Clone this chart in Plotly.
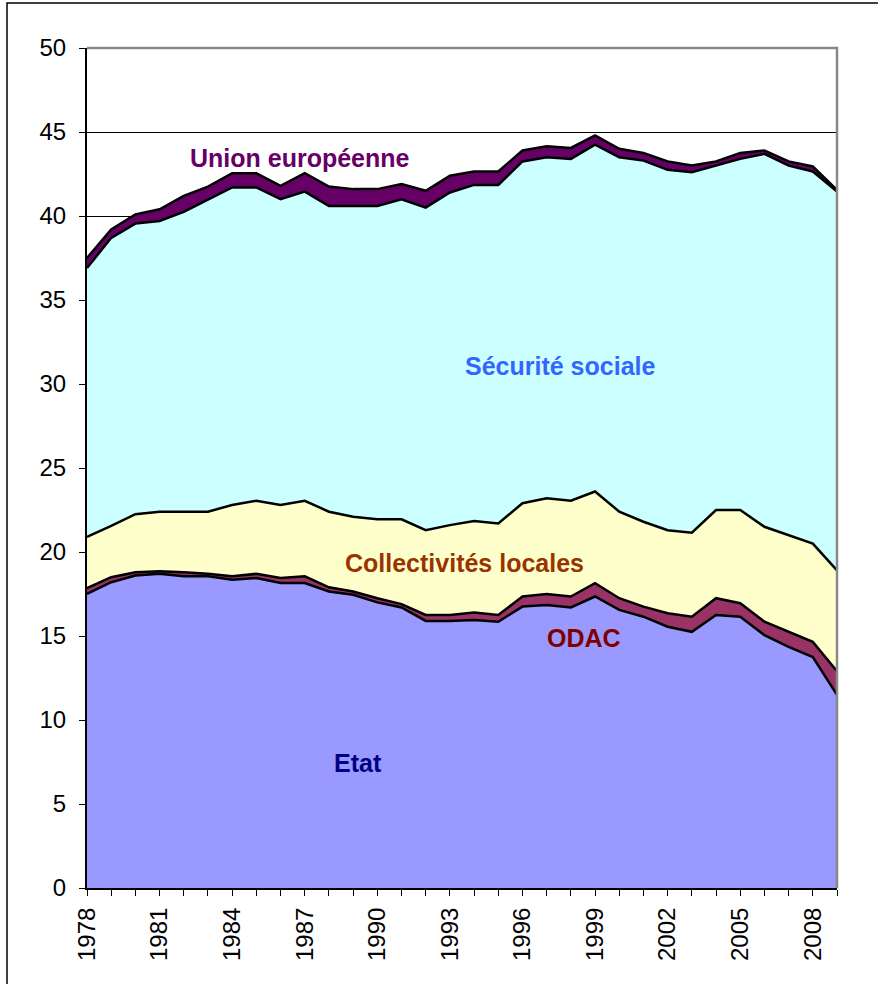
import plotly.graph_objects as go

years = list(range(1978, 2010))

etat = [17.5, 18.2, 18.6, 18.7, 18.55, 18.55, 18.35, 18.45, 18.15, 18.15, 17.65, 17.45,
        17.0, 16.7, 15.9, 15.9, 15.95, 15.85, 16.75, 16.85, 16.7, 17.35, 16.55, 16.15,
        15.55, 15.25, 16.25, 16.15, 15.05, 14.35, 13.75, 11.5]
odac = [0.35, 0.3, 0.2, 0.15, 0.25, 0.15, 0.2, 0.25, 0.3, 0.4, 0.25, 0.2,
        0.25, 0.2, 0.35, 0.35, 0.45, 0.4, 0.6, 0.65, 0.65, 0.8, 0.7, 0.6,
        0.8, 0.9, 1.0, 0.8, 0.8, 0.9, 0.9, 1.4]
collectivites = [3.05, 3.05, 3.45, 3.55, 3.6, 3.7, 4.25, 4.35, 4.35, 4.5, 4.5, 4.45,
                 4.7, 5.05, 5.05, 5.35, 5.45, 5.45, 5.55, 5.7, 5.7, 5.45, 5.15, 5.05,
                 4.95, 5.0, 5.25, 5.55, 5.65, 5.75, 5.85, 6.0]
securite = [16.0, 17.15, 17.3, 17.3, 17.85, 18.6, 18.9, 18.65, 18.2, 18.4, 18.2, 18.5,
            18.65, 19.05, 19.2, 19.8, 20.0, 20.15, 20.35, 20.3, 20.35, 20.65, 21.1, 21.5,
            21.45, 21.45, 20.5, 20.9, 22.2, 22.0, 22.15, 22.55]
union = [0.6, 0.5, 0.55, 0.7, 0.95, 0.75, 0.85, 0.85, 0.8, 1.1, 1.15, 1.0,
         1.0, 0.9, 1.0, 1.0, 0.8, 0.8, 0.65, 0.65, 0.65, 0.55, 0.5, 0.45,
         0.5, 0.4, 0.25, 0.35, 0.2, 0.25, 0.3, 0.1]

series = [
    ("Etat", etat, "#9999FF"),
    ("ODAC", odac, "#993366"),
    ("Collectivités locales", collectivites, "#FFFFCC"),
    ("Sécurité sociale", securite, "#CCFFFF"),
    ("Union européenne", union, "#660066"),
]

labels = [
    ("Union européenne", 1986.8, 43.45, "#660066"),
    ("Sécurité sociale", 1997.55, 31.1, "#3366FF"),
    ("Collectivités locales", 1993.6, 19.35, "#993300"),
    ("ODAC", 1998.55, 14.9, "#800000"),
    ("Etat", 1989.2, 7.45, "#000080"),
]

fig = go.Figure()
for name, vals, color in series:
    fig.add_trace(go.Scatter(
        x=years, y=vals, name=name, mode="lines", stackgroup="one",
        fillcolor=color, line=dict(color="black", width=2.5),
        hoverinfo="x+y+name",
    ))

for text, x, y, color in labels:
    fig.add_annotation(x=x, y=y, text="<b>%s</b>" % text, showarrow=False,
                       font=dict(family="Liberation Sans, Arial", size=25, color=color))

# outer frame
fig.add_shape(type="rect", xref="paper", yref="paper",
              x0=(7 - 87) / 750, x1=(890 - 87) / 750,
              y0=(888 - 1000) / 840, y1=(888 - 3) / 840,
              line=dict(color="black", width=1.5), layer="below")
# top and right gray border of plot area
fig.add_shape(type="path", xref="paper", yref="paper",
              path="M 0 1 L 1 1 L 1 0",
              line=dict(color="#888888", width=2.5), layer="above")

fig.update_layout(
    width=878, height=984,
    margin=dict(l=87, r=41, t=48, b=96),
    paper_bgcolor="white", plot_bgcolor="white",
    showlegend=False,
    font=dict(family="Liberation Sans, Arial", size=24, color="black"),
)
fig.update_xaxes(
    range=[1978, 2009], tick0=1978, dtick=3, tickangle=-90,
    showgrid=False, zeroline=False, showline=True, linecolor="black", linewidth=2,
    ticks="outside", ticklen=6, tickcolor="black",
    tickfont=dict(size=24), ticklabelstandoff=2,
    minor=dict(dtick=1, tick0=1978, ticks="outside", ticklen=6, tickcolor="black", showgrid=False),
)
fig.update_yaxes(
    range=[0, 50], dtick=5, showgrid=True, gridcolor="black", gridwidth=1,
    zeroline=False, showline=True, linecolor="black", linewidth=2,
    ticks="outside", ticklen=6, tickcolor="black", tickfont=dict(size=24),
    ticklabelstandoff=8,
)

fig.write_html("out.html", config={"displayModeBar": False},
               post_script="document.body.style.margin='0';document.body.style.overflow='hidden';")
